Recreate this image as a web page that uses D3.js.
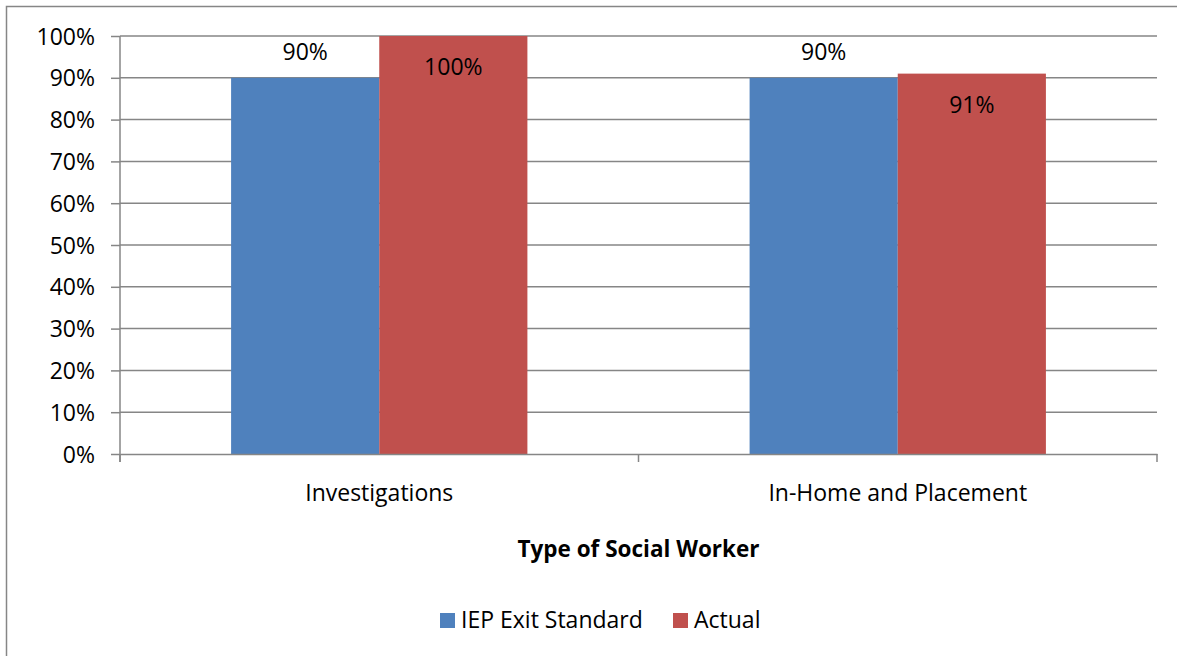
<!DOCTYPE html>
<html>
<head>
<meta charset="utf-8">
<script src="https://cdn.jsdelivr.net/npm/d3@7"></script>
<style>
  body { margin: 0; background: #fff; }
  text { font-family: "Open Sans", sans-serif; fill: #000; }
</style>
</head>
<body>
<svg id="chart"></svg>
<script>
var width = 1177,
    height = 656;

var categories = ["Investigations", "In-Home and Placement"];
var seriesNames = ["IEP Exit Standard", "Actual"];
var standardValues = [0.90, 0.90];
var actualValues = [1.00, 0.91];
var yTicks = [0, 0.1, 0.2, 0.3, 0.4, 0.5, 0.6, 0.7, 0.8, 0.9, 1.0];
var colors = ["#4f81bd", "#c0504d"];

var margin = {top: 36, right: 20, bottom: 202, left: 120};
var plotW = 1157 - margin.left,
    plotH = 454 - margin.top;
var fs = "23px";

var svg = d3.select("#chart")
    .attr("width", width)
    .attr("height", height);

// outer frame
svg.append("rect")
    .attr("x", 6.5).attr("y", 6.5)
    .attr("width", width + 10).attr("height", height + 10)
    .attr("fill", "none")
    .attr("stroke", "#868686")
    .attr("stroke-width", 1.5);

var g = svg.append("g")
    .attr("transform", "translate(" + margin.left + "," + margin.top + ")");

var x0 = d3.scaleBand().domain(categories).range([0, plotW]);
var x1 = d3.scaleBand().domain(seriesNames).range([0, x0.bandwidth()]).paddingInner(0).paddingOuter(0.7499);
var y = d3.scaleLinear().domain([0, 1]).range([plotH, 0]);

// gridlines
g.append("g").selectAll("line")
    .data(yTicks.slice(1))
    .enter().append("line")
    .attr("x1", 0).attr("x2", plotW)
    .attr("y1", function(d) { return y(d); })
    .attr("y2", function(d) { return y(d); })
    .attr("stroke", "#868686")
    .attr("stroke-width", 1.5);

var rows = categories.map(function(c, i) {
    return {cat: c, vals: [standardValues[i], actualValues[i]]};
});

var groups = g.selectAll(".grp")
    .data(rows)
    .enter().append("g")
    .attr("transform", function(d) { return "translate(" + x0(d.cat) + ",0)"; });

groups.selectAll("rect")
    .data(function(d) { return d.vals.map(function(v, j) { return {name: seriesNames[j], v: v, j: j}; }); })
    .enter().append("rect")
    .attr("x", function(d) { return x1(d.name); })
    .attr("y", function(d) { return y(d.v); })
    .attr("width", x1.bandwidth())
    .attr("height", function(d) { return plotH - y(d.v); })
    .attr("fill", function(d) { return colors[d.j]; });

// data labels: standard outside end, actual inside end
groups.selectAll(".lbl")
    .data(function(d) { return d.vals.map(function(v, j) { return {name: seriesNames[j], v: v, j: j}; }); })
    .enter().append("text")
    .attr("x", function(d) { return x1(d.name) + x1.bandwidth() / 2; })
    .attr("y", function(d) { return d.j == 0 ? y(d.v) - 26 : y(d.v) + 31; })
    .attr("dy", "0.35em")
    .attr("text-anchor", "middle")
    .style("font-size", fs)
    .text(function(d) { return Math.round(d.v * 100) + "%"; });

// y axis
var yAxis = g.append("g")
    .call(d3.axisLeft(y).tickValues(yTicks).tickFormat(d3.format(".0%")).tickSize(9).tickPadding(16));
yAxis.select(".domain").attr("stroke", "#868686").attr("stroke-width", 1.5)
    .attr("d", "M0,0V" + (plotH + 8));
yAxis.selectAll(".tick line").attr("stroke", "#868686").attr("stroke-width", 1.5);
yAxis.selectAll("text").style("font-size", fs).attr("dy", "0.35em");

// x axis
var xAxis = g.append("g")
    .attr("transform", "translate(0," + plotH + ")")
    .call(d3.axisBottom(x0).tickSize(0).tickPadding(31));
xAxis.select(".domain").attr("stroke", "#868686").attr("stroke-width", 1.5);
xAxis.selectAll("text").style("font-size", fs);
xAxis.append("g").selectAll("line")
    .data([0, x0.step(), plotW])
    .enter().append("line")
    .attr("x1", function(d) { return d; }).attr("x2", function(d) { return d; })
    .attr("y1", 0).attr("y2", 8)
    .attr("stroke", "#868686").attr("stroke-width", 1.5);

// axis title
svg.append("text")
    .attr("x", margin.left + plotW / 2)
    .attr("y", 549)
    .attr("dy", "0.35em")
    .attr("text-anchor", "middle")
    .style("font-size", "22.5px")
    .style("font-weight", "bold")
    .text("Type of Social Worker");

// legend
var legend = svg.append("g").attr("transform", "translate(440,620)");
var legX = [0, 233];
seriesNames.forEach(function(s, i) {
    legend.append("rect")
        .attr("x", legX[i]).attr("y", -7)
        .attr("width", 15).attr("height", 15)
        .attr("fill", colors[i]);
    legend.append("text")
        .attr("x", legX[i] + 21).attr("y", 0)
        .attr("dy", "0.35em")
        .style("font-size", fs)
        .text(s);
});
</script>
</body>
</html>
